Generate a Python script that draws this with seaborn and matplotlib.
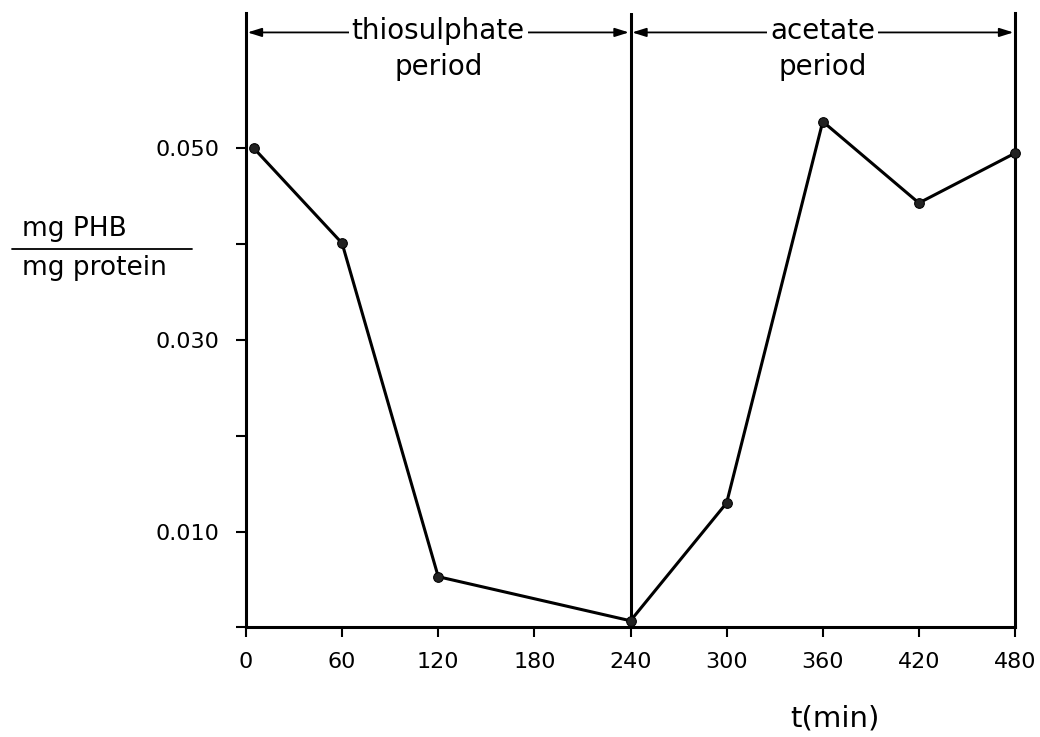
import matplotlib
matplotlib.use("Agg")
import matplotlib.pyplot as plt
from matplotlib.lines import Line2D
import seaborn as sns
import pandas as pd

# Data
time_min = [5, 60, 120, 240, 300, 360, 420, 480]
phb_ratio = [0.0500, 0.0401, 0.0053, 0.0007, 0.0130, 0.0528, 0.0443, 0.0495]
x_ticks = [0, 60, 120, 180, 240, 300, 360, 420, 480]
y_ticks = [0.0, 0.010, 0.020, 0.030, 0.040, 0.050]
y_tick_labels = ["", "0.010", "", "0.030", "", "0.050"]
periods = ["thiosulphate\nperiod", "acetate\nperiod"]
period_bounds = [(0, 240), (240, 480)]

sns.set_theme(style="ticks")
plt.rcParams['font.family'] = ['DejaVu Sans']
plt.rcParams['text.color'] = 'black'
plt.rcParams['xtick.color'] = 'black'
plt.rcParams['ytick.color'] = 'black'

df = pd.DataFrame({"t": time_min, "phb": phb_ratio})

fig = plt.figure(figsize=(10.4, 7.37), dpi=100)
ax = fig.add_axes([0.2365, 0.1486, 0.7395, 0.8334])

sns.lineplot(data=df, x="t", y="phb", ax=ax, color="black", linewidth=2.2,
             marker="o", markersize=7, markeredgecolor="black",
             markerfacecolor="#222222", clip_on=False, zorder=5)

ax.set_xlim(0, 480)
ax.set_ylim(0, 0.0641)
ax.set_xticks(x_ticks)
ax.set_xticklabels([str(v) for v in x_ticks], fontsize=16)
ax.set_yticks(y_ticks)
ax.set_yticklabels(y_tick_labels, fontsize=16)
ax.tick_params(axis="both", direction="out", length=7, width=1.5, color="black",
               labelcolor="black")
ax.tick_params(axis="x", pad=11)
ax.tick_params(axis="y", pad=12)
ax.set_xlabel("")
ax.set_ylabel("")

for side in ["left", "bottom", "right"]:
    ax.spines[side].set_visible(True)
    ax.spines[side].set_linewidth(2.2)
    ax.spines[side].set_color("black")
ax.spines["top"].set_visible(False)

ax.axvline(240, color="black", linewidth=2.2)

# period arrows and labels
y_arrow = 0.0621
for (x0, x1), label in zip(period_bounds, periods):
    ax.annotate("", xy=(x0 + 1, y_arrow), xytext=(x1 - 1, y_arrow),
                arrowprops=dict(arrowstyle="<|-|>,head_length=0.7,head_width=0.22",
                                color="black", lw=1.3, shrinkA=0, shrinkB=0))
    first, second = label.split("\n")
    xc = (x0 + x1) / 2
    ax.text(xc, 0.0623, first, ha="center", va="center", fontsize=20,
            bbox=dict(facecolor="white", edgecolor="none", pad=2), zorder=6)
    ax.text(xc, 0.0585, second, ha="center", va="center", fontsize=20, zorder=6)

# y label as fraction
fig.text(22 / 1040, 1 - 229 / 737, "mg PHB", ha="left", va="center", fontsize=19)
fig.text(22 / 1040, 1 - 268 / 737, "mg protein", ha="left", va="center", fontsize=19)
fig.add_artist(Line2D([12 / 1040, 192 / 1040], [1 - 249 / 737, 1 - 249 / 737],
                      color="black", linewidth=1.3))

# x label
fig.text(835 / 1040, 1 - 718 / 737, "t(min)", ha="center", va="center", fontsize=21)

fig.savefig("out.png", dpi=100)
